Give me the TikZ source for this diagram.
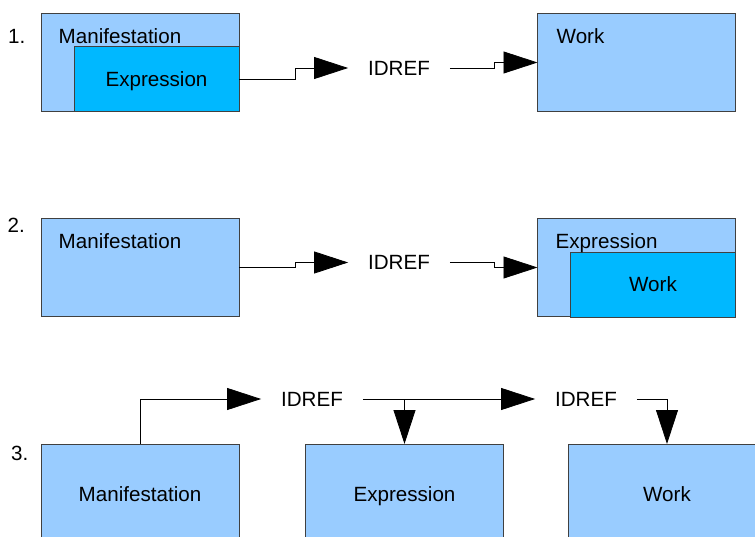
\documentclass[tikz,border=0pt]{standalone}
\usepackage{fontspec}
\setmainfont{Liberation Sans}
\usetikzlibrary{arrows.meta}
\definecolor{paleblue}{HTML}{99CCFF}
\definecolor{deepsky}{HTML}{00B8FF}
\definecolor{edge}{HTML}{404040}

\begin{document}
\begin{tikzpicture}[x=1pt,y=-1pt,
  font=\fontsize{20.6}{24}\selectfont,
  outerbox/.style={draw=edge, line width=0.9pt, fill=paleblue, inner sep=0pt, outer sep=0pt,
                   text depth=0pt, minimum width=198pt, minimum height=98pt},
  innerbox/.style={draw=edge, line width=0.9pt, fill=deepsky, inner sep=0pt, outer sep=0pt,
                   text depth=0pt, minimum width=165pt, minimum height=65pt},
  ref/.style={inner xsep=20pt, inner ysep=2pt, outer sep=0pt},
  tag/.style={anchor=base west, inner sep=0pt},
  link/.style={draw=black, line width=0.8pt, -{Triangle[length=34pt,width=22pt]}}]

\path[use as bounding box] (0,0) rectangle (755,537);
\clip (0,0) rectangle (755,537);

% ---- case 1: expression nested in manifestation ----
\node[outerbox] (man1) at (140,62.5) {};
\node[innerbox] (exp1) at (156.5,79) {Expression};
\node[tag] at (58.5,43.3) {Manifestation};
\node[outerbox] (work1) at (636.5,62.5) {};
\node[tag] at (556.5,43.3) {Work};
\node[ref] (id1) at (399,68) {IDREF};
\node[tag] at (8,43.3) {1.};
\draw[link] (exp1.east) -- ++(56,0) |- (id1.west);
\draw[link] (id1.east) -- ++(44,0) |- (work1.west);

% ---- case 2: work nested in expression ----
\node[outerbox] (man2) at (140,267.5) {};
\node[tag] at (58.5,249) {Manifestation};
\node[outerbox] (exp2) at (636.5,267.5) {};
\node[innerbox] (work2) at (653,284.5) {Work};
\node[tag] at (555.5,249) {Expression};
\node[ref] (id2) at (399,262.5) {IDREF};
\node[tag] at (7.5,233) {2.};
\draw[link] (man2.east) -- ++(56,0) |- (id2.west);
\draw[link] (id2.east) -- ++(44,0) |- (exp2.west);

% ---- case 3: three separate records ----
\node[outerbox, minimum height=100pt] (man3) at (140,494) {Manifestation};
\node[outerbox, minimum height=100pt] (exp3) at (404.5,494) {Expression};
\node[outerbox, minimum height=100pt] (work3) at (667,494) {Work};
\node[ref] (id3) at (312,399) {IDREF};
\node[ref] (id4) at (586,399) {IDREF};
\node[tag] at (11,460) {3.};
\draw[link] (man3.north) |- (id3.west);
\draw[link] (id3.east) -- (id4.west);
\draw[link] (exp3.north |- id3.east) -- (exp3.north);
\draw[link] (id4.east) -| (work3.north);
\end{tikzpicture}
\end{document}
